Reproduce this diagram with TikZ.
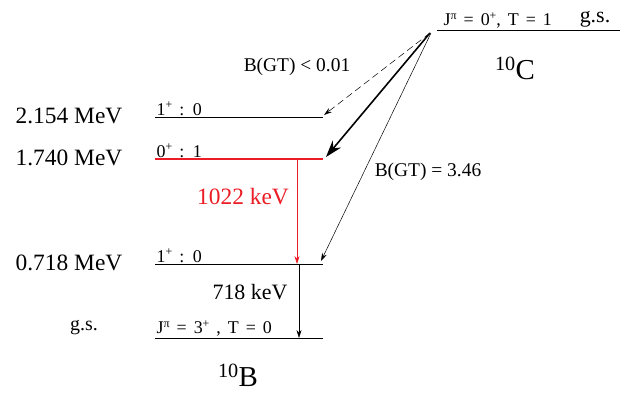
\documentclass[tikz,border=0pt]{standalone}
\usepackage{fontspec}
\setmainfont{Liberation Serif}
\usetikzlibrary{arrows.meta,positioning}
\definecolor{nred}{RGB}{236,28,36}
\newcommand{\smsup}[1]{\raisebox{6.5pt}{\fontsize{12}{12}\selectfont #1}}
\newcommand{\widesp}{\spaceskip=7pt plus 1pt\relax}

\begin{document}
\begin{tikzpicture}[x=1bp,y=-1bp,
  lvl/.style={line width=0.8pt},
  elab/.style={font=\fontsize{23.5}{25}\selectfont, inner sep=0pt},
  slab/.style={anchor=south west, inner sep=1.5pt, font=\fontsize{18}{19}\selectfont},
  glab/.style={font=\fontsize{19.5}{21}\selectfont, inner sep=0pt},
  nuc/.style={font=\fontsize{29}{31}\selectfont, inner sep=0pt},
  trans/.style={-{Stealth[length=8pt,width=5pt]}, line width=0.5pt}
]
  \useasboundingbox (0,0) rectangle (628,394);

  % 10C ground state
  \coordinate (cgs_l) at (437,30);
  \coordinate (cgs_r) at (620,30);
  \draw[lvl] (cgs_l) -- (cgs_r);
  \node[slab] (cgs_j) at (442,30) {\widesp J\smsup{π} = 0\smsup{+}, T = 1};
  \node[elab, anchor=south, font=\fontsize{22}{24}\selectfont] (cgs_g) at (595,27) {g.s.};
  \node[nuc] (c_nuc) at (515,68) {\textsuperscript{10}C};
  \coordinate (beta) at (430,33);
  \coordinate (beta2) at (431,33);

  % 10B levels
  \coordinate (b2_l) at (155,117);
  \coordinate (b2_r) at (323,117);
  \draw[lvl] (b2_l) -- (b2_r);
  \node[slab] (b2_j) at (b2_l) {\widesp 1\smsup{+} : 0};
  \node[elab] (b2_e) at (69,116) {2.154 MeV};

  \coordinate (b1_l) at (155,159);
  \coordinate (b1_r) at (323,159);
  \draw[lvl, nred, line width=1.2pt] (b1_l) -- (b1_r);
  \node[slab] (b1_j) at (b1_l) {\widesp 0\smsup{+} : 1};
  \node[elab] (b1_e) at (69,158) {1.740 MeV};

  \coordinate (b0_l) at (155,264);
  \coordinate (b0_r) at (323,264);
  \draw[lvl] (b0_l) -- (b0_r);
  \node[slab] (b0_j) at (b0_l) {\widesp 1\smsup{+} : 0};
  \node[elab] (b0_e) at (69,263) {0.718 MeV};

  \coordinate (bgs_l) at (155,338);
  \coordinate (bgs_r) at (323,338);
  \draw[lvl] (bgs_l) -- (bgs_r);
  \node[slab] (bgs_j) at (bgs_l) {\widesp J\smsup{π} = 3\smsup{+} , T = 0};
  \node[elab, font=\fontsize{20}{22}\selectfont] (bgs_e) at (84,328) {g.s.};
  \node[nuc] (b_nuc) at (238,375) {\textsuperscript{10}B};

  % beta feeding
  \coordinate (f2) at (324,115);
  \coordinate (f1) at (326,157);
  \coordinate (f0) at (321,261);
  \draw[trans, dash pattern=on 7pt off 4pt] (beta) -- (f2);
  \draw[-{Stealth[length=17pt,width=11pt]}, line width=1.6pt] (beta) -- (f1);
  \draw[trans] (beta2) -- (f0);
  \node[glab] (bgt_a) at (297,67) {B(GT) < 0.01};
  \node[glab] (bgt_b) at (428,172) {B(GT) = 3.46};

  % gamma transitions
  \coordinate (g1_t) at (297,159);
  \coordinate (g1_b) at (297,264);
  \draw[trans, nred] (g1_t) -- (g1_b);
  \node[elab, text=nred] (g1_e) at (243,197) {1022 keV};

  \coordinate (g0_t) at (299,264);
  \coordinate (g0_b) at (299,338);
  \draw[trans] (g0_t) -- (g0_b);
  \node[elab, font=\fontsize{22}{24}\selectfont] (g0_e) at (250,292) {718 keV};
\end{tikzpicture}
\end{document}
